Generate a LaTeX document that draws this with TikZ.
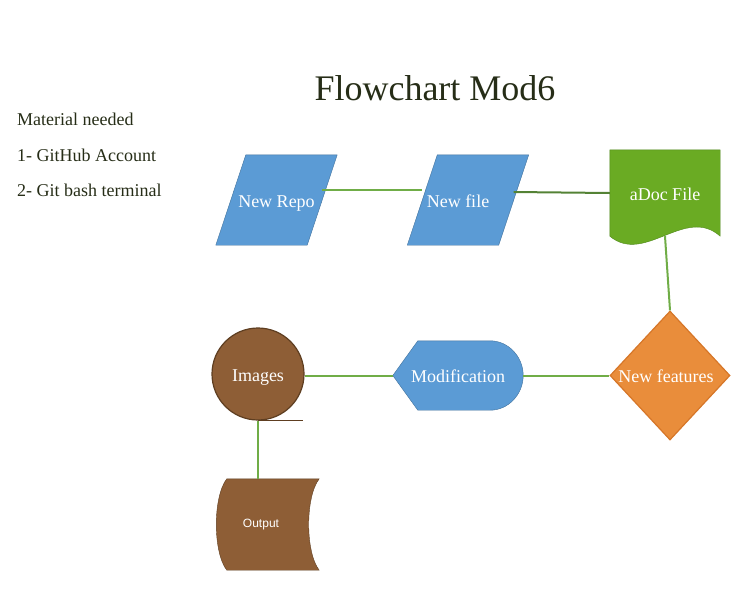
\documentclass[tikz,border=0pt]{standalone}
\usepackage{fontspec}
\setmainfont{Liberation Serif}
\setsansfont{Liberation Sans}
\usepackage{tikz}
\usetikzlibrary{shapes.geometric, positioning, calc, backgrounds}

\definecolor{bluefill}{RGB}{91,155,213}
\definecolor{blueline}{RGB}{65,113,156}
\definecolor{docfill}{RGB}{106,171,35}
\definecolor{docline}{RGB}{78,135,26}
\definecolor{featfill}{RGB}{233,141,59}
\definecolor{featline}{RGB}{214,118,40}
\definecolor{brownfill}{RGB}{142,94,54}
\definecolor{brownline}{RGB}{94,62,33}
\definecolor{linkgreen}{RGB}{112,173,71}
\definecolor{darkgreen}{RGB}{84,130,53}
\definecolor{titletext}{RGB}{38,45,23}

\newcommand{\flowfont}{\fontsize{18}{20}\selectfont}

\begin{document}
\begin{tikzpicture}[
        x=1pt, y=-1pt,
        flowtext/.style={text=white, font=\flowfont, text height=14pt, text depth=0pt},
        shapebox/.style={rectangle, inner sep=0pt, flowtext},
        decision/.style={
            diamond, minimum width=120pt, minimum height=129pt, inner sep=0pt,
            draw=featline, fill=featfill, line width=1.2pt
        },
        tape/.style={
            circle, minimum size=92pt, inner sep=0pt, draw=brownline,
            fill=brownfill, line width=1.2pt, flowtext
        },
        link/.style={draw=linkgreen, line width=2pt},
        sidetext/.style={anchor=base west, inner sep=0pt, text=titletext, font=\fontsize{18}{20}\selectfont}
    ]
    \useasboundingbox (0,0) rectangle (750,590);

    % --- Texts ---
    \node[anchor=base, text=titletext, font=\fontsize{36}{40}\selectfont] (title) at (435,100) {Flowchart Mod6};
    \node[sidetext] (material) at (17,125) {Material needed};
    \node[sidetext] (github) at (17,161) {1- GitHub Account};
    \node[sidetext] (gitbash) at (17,196) {2- Git bash terminal};

    % --- Nodes ---
    \node[shapebox, minimum width=91pt, minimum height=90pt] (repo) at (276.5,200) {New Repo};
    \node[shapebox, minimum width=91pt, minimum height=90pt,
        label={[flowtext, xshift=-10pt]center:New file}] (file) at (468,200) {};
    \node[shapebox, minimum width=110pt, minimum height=86pt] (doc) at (665,193) {aDoc File};
    \node[decision, label={[flowtext, xshift=-4pt]center:New features}] (feat) at (670,375.5) {};
    \node[shapebox, minimum width=130pt, minimum height=69pt] (mod) at (458,375.5) {Modification};
    \node[tape] (img) at (258,374) {Images};
    \node[shapebox, minimum width=92pt, minimum height=91pt,
        label={[text=white, font=\sffamily\fontsize{12}{14}\selectfont, xshift=-12pt]center:Output}] (out) at (273,524.5) {};

    % --- Outlines ---
    \begin{scope}[on background layer, line width=1.2pt]
        \foreach \n in {repo, file}
            \filldraw[draw=blueline, fill=bluefill] ($(\n.north west)+(15,0)$) -- ($(\n.north east)+(15,0)$)
                -- ($(\n.south east)+(-15,0)$) -- ($(\n.south west)+(-15,0)$) -- cycle;
        \filldraw[draw=docline, fill=docfill] (doc.north west) -- (doc.north east) -- (doc.south east)
            .. controls +(-35,-31) and +(35,29) .. (doc.south west) -- cycle;
        \filldraw[draw=blueline, fill=bluefill] (mod.west) -- ($(mod.north west)+(25,0)$)
            -- ($(mod.north east)+(-33,0)$) .. controls +(18,0) and +(0,-19) .. (mod.east)
            .. controls +(0,19) and +(18,0) .. ($(mod.south east)+(-33,0)$)
            -- ($(mod.south west)+(25,0)$) -- cycle;
        \filldraw[draw=brownline, fill=brownfill] (out.north west) -- (out.north east)
            .. controls +(-14,18) and +(-14,-18) .. (out.south east) -- (out.south west)
            .. controls +(-14,-18) and +(-14,18) .. (out.north west) -- cycle;
    \end{scope}
    \draw[draw=brownline, line width=1.5pt] (img.south) -- ++(45,0);

    % --- Connections ---
    \draw[link] ([yshift=10pt]repo.east) -- ([yshift=10pt]file.west);
    \draw[link, draw=darkgreen] ([yshift=8pt]file.east) -- (doc.west);
    \draw[link] (doc.south) -- (feat.north);
    \draw[link] (feat.west) -- (mod.east);
    \draw[link] (mod.west) -- (mod.west -| img.east);
    \draw[link] (img.south) -- (img.south |- out.north);

\end{tikzpicture}
\end{document}
